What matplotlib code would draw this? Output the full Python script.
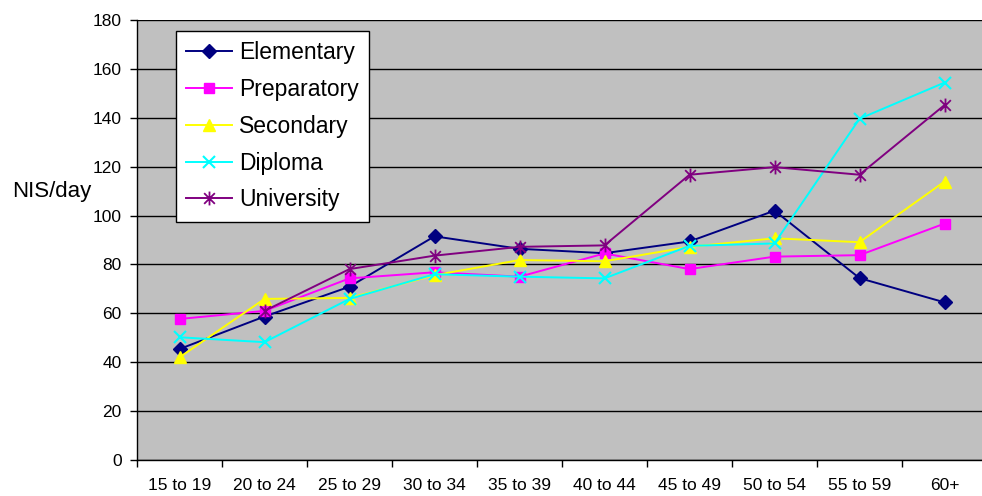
import matplotlib
matplotlib.use("Agg")
import matplotlib.pyplot as plt
from matplotlib.path import Path
import numpy as np

plt.rcParams['font.family'] = ['Liberation Sans', 'DejaVu Sans']

age_groups = ["15 to 19", "20 to 24", "25 to 29", "30 to 34", "35 to 39",
              "40 to 44", "45 to 49", "50 to 54", "55 to 59", "60+"]
elementary = [45.4, 58.7, 70.9, 91.5, 86.4, 84.6, 89.4, 102, 74.4, 64.5]
preparatory = [57.7, 61.0, 74.3, 76.8, 75.0, 84.5, 78.1, 83.2, 83.8, 96.7]
secondary = [42.0, 65.9, 66.3, 75.6, 81.8, 81.3, 87.2, 90.7, 89.1, 113.9]
diploma = [50.2, 48.2, 65.9, 76.0, 75.0, 74.3, 87.6, 88.6, 139.6, 154.4]
university = [np.nan, 61.0, 78.1, 83.6, 87.2, 87.8, 116.7, 119.8, 116.7, 145.2]

series_names = ["Elementary", "Preparatory", "Secondary", "Diploma", "University"]

# Excel-like asterisk marker (x plus vertical line)
star_path = Path([(-1, -1), (1, 1), (-1, 1), (1, -1), (0, -1.3), (0, 1.3)],
                 [Path.MOVETO, Path.LINETO, Path.MOVETO, Path.LINETO,
                  Path.MOVETO, Path.LINETO])

styles = [
    dict(color="#000080", marker="D", ms=7),
    dict(color="#FF00FF", marker="s", ms=7.5),
    dict(color="#FFFF00", marker="^", ms=9),
    dict(color="#00FFFF", marker="x", ms=9, mew=1.5),
    dict(color="#800080", marker=star_path, ms=10, mew=1.3),
]

fig = plt.figure(figsize=(9.82, 4.96), dpi=100)
ax = fig.add_axes([137/982, 1 - 460/496, 850/982, 440/496])
ax.set_facecolor("#C0C0C0")

x = np.arange(len(age_groups)) + 0.5
for name, vals, st in zip(series_names,
                          [elementary, preparatory, secondary, diploma, university],
                          styles):
    ax.plot(x, vals, color=st["color"], lw=1.4, marker=st["marker"],
            markersize=st["ms"], markeredgewidth=st.get("mew", 1.0),
            markerfacecolor=st["color"], markeredgecolor=st["color"],
            label=name, zorder=3)

ax.set_xlim(0, len(age_groups))
ax.set_ylim(0, 180)
ax.set_yticks(np.arange(0, 181, 20))
ax.yaxis.grid(True, color="black", lw=1.0)
ax.set_axisbelow(True)

ax.set_xticks(np.arange(0, len(age_groups) + 1))
ax.set_xticklabels([])
ax.set_xticks(x, minor=True)
ax.set_xticklabels(age_groups, minor=True)
ax.tick_params(axis="x", which="minor", length=0, pad=13, labelsize=12.5)
ax.tick_params(axis="x", which="major", length=5, width=1, direction="out")
ax.tick_params(axis="y", length=5, width=1, direction="out", pad=6, labelsize=12.5)

for s in ["top", "right"]:
    ax.spines[s].set_visible(False)
for s in ["left", "bottom"]:
    ax.spines[s].set_color("black")
    ax.spines[s].set_linewidth(1.0)

fig.text(12/982, 1 - 192/496, "NIS/day", ha="left", va="center", fontsize=16)

leg = ax.legend(loc="upper left", bbox_to_anchor=((176-137)/850, (460-31)/440),
                borderaxespad=0, fancybox=False, shadow=False, framealpha=1,
                edgecolor="black", fontsize=16.5, handlelength=2.0,
                handletextpad=0.3, labelspacing=0.6, borderpad=0.45)
leg.get_frame().set_linewidth(1.0)

fig.savefig("out.png", dpi=100)
